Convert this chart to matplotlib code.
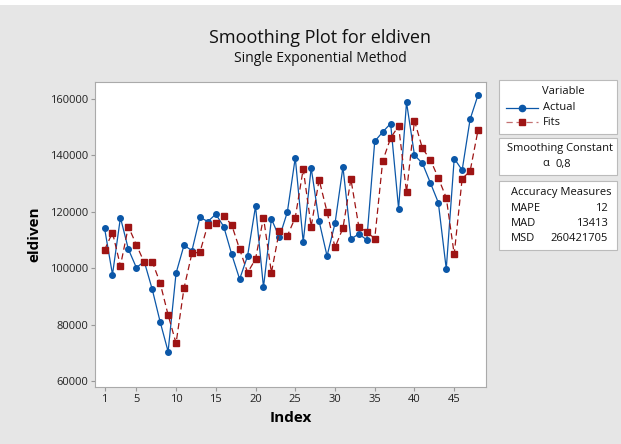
import numpy as np
import matplotlib.pyplot as plt
from matplotlib.lines import Line2D
from matplotlib.patches import Rectangle

# valeurs
index = np.arange(1, 49)
actual = [114300, 97800, 118000, 106800, 100300, 102400, 92600, 81050, 70550, 98300,
          108200, 106300, 118100, 116600, 119200, 114800, 105000, 96200, 104400, 122000,
          93300, 117500, 111000, 119900, 139200, 109300, 135600, 116700, 104400, 115900,
          135900, 110400, 112200, 110100, 145000, 148300, 151300, 121200, 158800, 140100,
          137200, 130300, 123300, 99800, 138900, 134800, 152800, 161400]
fits = [106500, 112700, 100900, 114800, 108400, 102100, 102400, 94800, 83500, 73500,
        93000, 105400, 105700, 115500, 115900, 118600, 115400, 106800, 98500, 103300,
        118000, 98500, 113400, 111500, 118000, 135200, 114800, 131400, 120000, 107400,
        114300, 131600, 114700, 113000, 110500, 138000, 146200, 150400, 127000, 152300,
        142500, 138500, 132000, 125000, 105000, 131800, 134400, 149000]
xticks = [1, 5, 10, 15, 20, 25, 30, 35, 40, 45]
yticks = [60000, 80000, 100000, 120000, 140000, 160000]
alpha_txt = "0,8"
mesures = [("MAPE", "12"), ("MAD", "13413"), ("MSD", "260421705")]

bleu = '#0b57a8'
rouge = '#9e1414'
gris = '#e6e6e6'

plt.rcParams['font.family'] = ['Open Sans', 'DejaVu Sans']

fig = plt.figure(figsize=(6.21, 4.44), dpi=100, facecolor=gris)
# bande blanche en haut
fig.patches.append(Rectangle((0, 1 - 5 / 444), 1, 5 / 444, transform=fig.transFigure,
                             facecolor='white', edgecolor='none'))

ax = fig.add_axes([95 / 621, 1 - 387 / 444, (486 - 95) / 621, (387 - 82) / 444])
ax.set_facecolor('white')

ax.plot(index, actual, color=bleu, lw=0.9, marker='o', ms=4, mec=bleu, mfc=bleu)
ax.plot(index, fits, color=rouge, lw=0.9, ls=(0, (5, 3)), marker='s', ms=4,
        mec=rouge, mfc=rouge)

ax.set_xlim(-0.2, 49)
ax.set_ylim(58000, 166000)
ax.set_xticks(xticks)
ax.set_yticks(yticks)
ax.set_yticklabels([str(v) for v in yticks])
ax.tick_params(labelsize=8, length=3, color='#999999', pad=2, labelcolor='#222222')
for s in ax.spines.values():
    s.set_color('#aaaaaa')
    s.set_linewidth(0.8)

ax.set_xlabel("Index", fontsize=11, fontweight='bold', labelpad=4)
ax.set_ylabel("eldiven", fontsize=11, fontweight='bold', labelpad=6)

fig.text(320 / 621, 1 - 38 / 444, "Smoothing Plot for eldiven", ha='center', va='center',
         fontsize=13, color='#111111')
fig.text(320 / 621, 1 - 59 / 444, "Single Exponential Method", ha='center', va='center',
         fontsize=10, color='#111111')


# boites de legende a droite
def boite(y0, y1):
    fig.patches.append(Rectangle((499 / 621, 1 - y1 / 444), (617 - 499) / 621, (y1 - y0) / 444,
                                 transform=fig.transFigure, facecolor='white',
                                 edgecolor='#bbbbbb', lw=0.8))


def txt(x, y, s, ha='left'):
    fig.text(x / 621, 1 - y / 444, s, ha=ha, va='center', fontsize=8, color='#111111')


boite(80, 134)
boite(138, 175)
boite(181, 250)

txt(563, 91, "Variable", 'center')
fig.lines.append(Line2D([506 / 621, 538 / 621], [1 - 108 / 444] * 2, transform=fig.transFigure,
                        color=bleu, lw=0.9))
fig.lines.append(Line2D([522 / 621], [1 - 108 / 444], transform=fig.transFigure,
                        color=bleu, marker='o', ms=4.5, ls='none'))
fig.lines.append(Line2D([506 / 621, 538 / 621], [1 - 122 / 444] * 2, transform=fig.transFigure,
                        color=rouge, lw=0.9, ls=(0, (5, 3)), alpha=0.6))
fig.lines.append(Line2D([522 / 621], [1 - 122 / 444], transform=fig.transFigure,
                        color=rouge, marker='s', ms=4.5, ls='none'))
txt(543, 108, "Actual")
txt(543, 122, "Fits")

txt(560, 149, "Smoothing Constant", 'center')
txt(546, 164, "α", 'center')
txt(563, 164, alpha_txt, 'center')

txt(561, 192, "Accuracy Measures", 'center')
for i, (nom, val) in enumerate(mesures):
    txt(511, 208 + i * 15, nom)
    txt(608, 208 + i * 15, val, 'right')

fig.savefig("out.png", dpi=100, facecolor=gris)
